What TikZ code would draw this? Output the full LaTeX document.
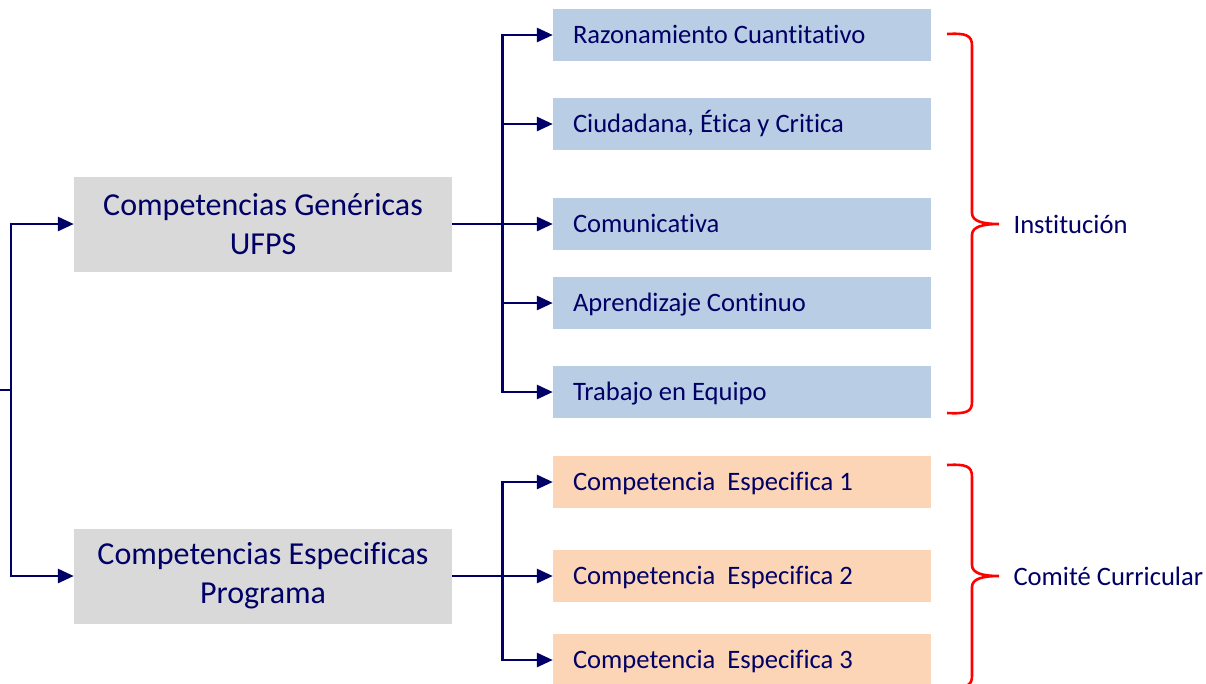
\documentclass[tikz,border=0pt]{standalone}
\usepackage{fontspec}
\setmainfont{Carlito}[Ligatures={NoCommon}]
\usetikzlibrary{arrows.meta,positioning}
\definecolor{navyline}{RGB}{0,0,102}
\definecolor{greybox}{RGB}{217,217,217}
\definecolor{bluebox}{RGB}{185,205,229}
\definecolor{orangebox}{RGB}{251,213,181}
\tikzset{>={Triangle[length=16pt,width=14pt]}, % bold filled heads
every node/.style={text=navyline},
bigbox/.style={fill=greybox, minimum width=378pt, minimum height=95pt, align=center, font=\fontsize{32}{39}\selectfont},
smallbox/.style={minimum width=378pt, minimum height=52pt, text width=338pt, inner xsep=20pt, inner ysep=0pt, text height=21pt, text depth=5pt, align=flush left, font=\fontsize{26.6}{30}\selectfont},
generic/.style={smallbox, fill=bluebox},
specific/.style={smallbox, fill=orangebox},
conn/.style={->, draw=navyline, line width=2.8pt},
brace/.style={draw=red, line width=2.6pt},
owner/.style={anchor=west, font=\fontsize{26.6}{30}\selectfont},
}
\begin{document}
\begin{tikzpicture}[x=1pt, y=-1pt]
\useasboundingbox (0,0) rectangle (1206,683);
% left column
\coordinate (root) at (0,390);
\node[bigbox] (gen) at (263,224) {Competencias Genéricas\\UFPS};
\node[bigbox] (spec) at (263,576) {Competencias Especificas\\Programa};
% generic competences
\node[generic] (g1) at (742,35) {Razonamiento Cuantitativo};
\node[generic] (g2) at (742,124) {Ciudadana, Ética y Critica};
\node[generic] (g3) at (742,224) {Comunicativa};
\node[generic] (g4) at (742,303) {Aprendizaje Continuo};
\node[generic] (g5) at (742,392) {Trabajo en Equipo};
% specific competences
\node[specific] (s1) at (742,482) {Competencia\ \ Especifica 1};
\node[specific] (s2) at (742,576) {Competencia\ \ Especifica 2};
\node[specific] (s3) at (742,660) {Competencia\ \ Especifica 3};
% connectors
\draw[conn] (root) -- ++(11,0) |- (gen.west);
\draw[conn] (root) -- ++(11,0) |- (spec.west);
\foreach \g in {g1,g2,g3,g4,g5}
  \draw[conn] (gen.east) -- ++(50,0) |- (\g.west);
\foreach \s in {s1,s2,s3}
  \draw[conn] (spec.east) -- ++(50,0) |- (\s.west);
% braces
\draw[brace] (947,34) .. controls (966,33) and (972,35) .. (972,46) -- (972,213)
  .. controls (972,221) and (982,224) .. (999,224)
  .. controls (982,224) and (972,227) .. (972,235) -- (972,402)
  .. controls (972,412) and (966,414) .. (947,413);
\draw[brace] (947,465) .. controls (966,464) and (972,466) .. (972,477) -- (972,565)
  .. controls (972,573) and (982,576) .. (999,576)
  .. controls (982,576) and (972,579) .. (972,587) -- (972,676)
  .. controls (972,686) and (966,688) .. (947,687);
\node[owner] (inst) at (1010,224) {Institución};
\node[owner] (comite) at (1010,576) {Comité Curricular};
\end{tikzpicture}
\end{document}
